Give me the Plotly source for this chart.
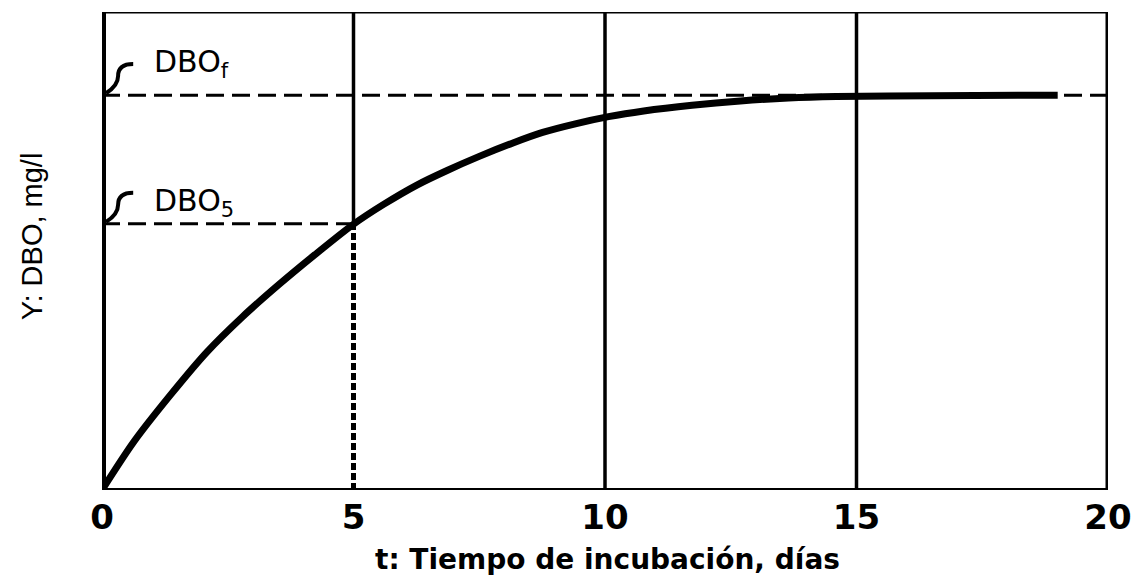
import plotly.graph_objects as go

# ---- data ----
t_days = [0, 0.64, 1.37, 2.08, 2.79, 3.52, 4.23, 5.0, 5.59, 6.26, 6.85, 7.5, 8.17,
          8.76, 9.41, 10.07, 10.77, 11.73, 12.69, 13.65, 14.6, 16.5, 19.0]
dbo = [0, 0.102, 0.200, 0.288, 0.362, 0.430, 0.492, 0.556, 0.597, 0.638, 0.668, 0.698, 0.726,
       0.748, 0.766, 0.781, 0.793, 0.805, 0.814, 0.820, 0.823, 0.825, 0.826]
dbo_f = 0.826
dbo_5 = 0.557
t5 = 5
grid_t = [10, 15]
x_ticks = [0, 5, 10, 15, 20]
x_ticklabels = ["0", "5", "10", "15", "20"]
x_title = "t: Tiempo de incubación, días"
y_title = "Y: DBO, mg/l"

BLACK = "#000000"
fig = go.Figure()


def seg(x, y, width, dash=None):
    fig.add_trace(go.Scatter(x=x, y=y, mode="lines",
                             line=dict(color=BLACK, width=width, dash=dash),
                             cliponaxis=False, hoverinfo="skip", showlegend=False))


# vertical grid lines (solid)
for g in grid_t:
    seg([g, g], [0, 1], 3.5)
# t = 5 : solid above DBO5, dotted below
seg([t5, t5], [dbo_5, 1], 3.5)
seg([t5, t5], [0, dbo_5], 5, "7px,3px")
# dashed reference lines
seg([0, 20], [dbo_f, dbo_f], 3, "18px,8px")
seg([0, t5], [dbo_5, dbo_5], 3, "18px,8px")
# frame
seg([0, 0], [0, 1], 8)
seg([20, 20], [0, 1], 5)
seg([0, 20], [1, 1], 3)
seg([0, 20], [0, 0], 4)

# BOD curve
fig.add_trace(go.Scatter(x=t_days, y=dbo, mode="lines",
                         line=dict(color=BLACK, width=7, shape="spline", smoothing=0.8),
                         cliponaxis=False, hoverinfo="skip", showlegend=False))

# hooks pointing to the levels
for lvl in (dbo_f, dbo_5):
    top = lvl + 0.065
    path = (f"M 0.08 {lvl+0.004} Q 0.32 {lvl+0.02} 0.32 {lvl+0.04} "
            f"Q 0.32 {top} 0.62 {top}")
    fig.add_shape(type="path", path=path, xref="x", yref="y",
                  line=dict(color=BLACK, width=4))

fig.add_annotation(x=1.0, y=dbo_f + 0.066, xref="x", yref="y", text="DBO<sub>f</sub>",
                   showarrow=False, xanchor="left", yanchor="middle",
                   font=dict(family="DejaVu Sans", size=30, color=BLACK))
fig.add_annotation(x=1.0, y=dbo_5 + 0.044, xref="x", yref="y", text="DBO<sub>5</sub>",
                   showarrow=False, xanchor="left", yanchor="middle",
                   font=dict(family="DejaVu Sans", size=30, color=BLACK))

# axis titles
fig.add_annotation(x=0.502, y=-0.146, xref="paper", yref="paper", text=x_title,
                   showarrow=False, xanchor="center", yanchor="middle",
                   font=dict(family="DejaVu Sans", size=28, color=BLACK, weight="bold"))
fig.add_annotation(x=-0.07, y=0.53, xref="paper", yref="paper", text=y_title,
                   showarrow=False, textangle=-90, xanchor="center", yanchor="middle",
                   font=dict(family="Liberation Sans", size=29, color=BLACK))

fig.update_xaxes(range=[0, 20], tickvals=x_ticks, ticktext=x_ticklabels,
                 showgrid=False, zeroline=False, showline=False, ticks="",
                 tickfont=dict(family="DejaVu Sans", size=34, color=BLACK, weight="bold"),
                 ticklabelstandoff=4)
fig.update_yaxes(range=[0, 1], showticklabels=False, showgrid=False,
                 zeroline=False, showline=False, ticks="")

# page body has an 8px margin, so the figure is sized/offset to compensate
fig.update_layout(width=1137, height=575, plot_bgcolor="white", paper_bgcolor="white",
                  margin=dict(l=94, r=37, t=4, b=93), showlegend=False)

fig.write_html("out.html")
